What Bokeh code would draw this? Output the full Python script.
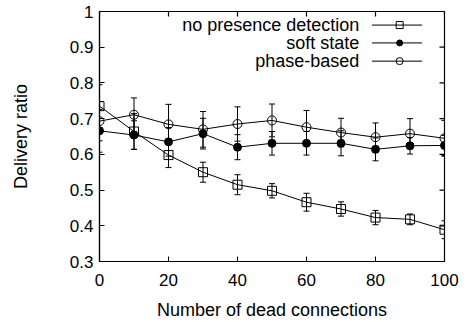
from bokeh.plotting import figure
from bokeh.models import Range1d, SingleIntervalTicker, Whisker, TeeHead, ColumnDataSource
from bokeh.core.properties import value
from bokeh.embed import file_html
from bokeh.resources import INLINE

x = [0, 10, 20, 30, 40, 50, 60, 70, 80, 90, 100]
no_presence = [0.735, 0.664, 0.598, 0.550, 0.515, 0.498, 0.466, 0.447, 0.423, 0.418, 0.389]
no_presence_err = [0.060, 0.050, 0.035, 0.028, 0.028, 0.020, 0.025, 0.020, 0.020, 0.015, 0.025]
soft_state = [0.666, 0.654, 0.635, 0.658, 0.620, 0.631, 0.631, 0.631, 0.614, 0.624, 0.625]
soft_state_err = [0.060, 0.040, 0.040, 0.043, 0.035, 0.033, 0.033, 0.035, 0.032, 0.023, 0.028]
phase_based = [0.693, 0.711, 0.684, 0.670, 0.685, 0.695, 0.676, 0.661, 0.648, 0.658, 0.645]
phase_based_err = [0.055, 0.047, 0.056, 0.050, 0.048, 0.046, 0.047, 0.040, 0.040, 0.042, 0.050]
series_names = ["no presence detection", "soft state", "phase-based"]
x_ticks = [0, 20, 40, 60, 80, 100]
y_ticks = [0.3, 0.4, 0.5, 0.6, 0.7, 0.8, 0.9, 1.0]

FONT = "Liberation Sans"
X_MIN, X_MAX, Y_MIN, Y_MAX = 0, 100, 0.3, 1.0

p = figure(width=466, height=322, output_backend="svg", toolbar_location=None,
           x_range=Range1d(X_MIN, X_MAX), y_range=Range1d(Y_MIN, Y_MAX),
           min_border_left=99, min_border_right=22, min_border_top=11, min_border_bottom=60)
p.grid.visible = False
p.background_fill_color = "white"
p.border_fill_color = "white"
p.outline_line_color = "black"
p.outline_line_width = 1.2

p.xaxis.ticker = SingleIntervalTicker(interval=20)
p.yaxis.ticker = SingleIntervalTicker(interval=0.1)
for ax in (p.xaxis[0], p.yaxis[0]):
    ax.major_tick_in = 5
    ax.major_tick_out = 0
    ax.minor_tick_in = 0
    ax.minor_tick_out = 0
    ax.axis_line_color = "black"
    ax.axis_line_width = 1.2
    ax.major_label_text_font = FONT
    ax.major_label_text_font_size = "17px"
    ax.major_label_text_color = "black"
    ax.axis_label_text_font = FONT
    ax.axis_label_text_font_size = "18px"
    ax.axis_label_text_font_style = "normal"
    ax.axis_label_text_color = "black"

p.xaxis.axis_label = "Number of dead connections"
p.yaxis.axis_label = "Delivery ratio"
p.xaxis.major_label_standoff = 12
p.xaxis.axis_label_standoff = 11
p.yaxis.major_label_standoff = 6
p.yaxis.axis_label_standoff = 36

# mirrored inward ticks on top and right edges (half of each rect is clipped by the frame)
p.rect(x=x_ticks, y=[Y_MAX] * len(x_ticks), width=1.2, height=10,
       width_units="screen", height_units="screen", fill_color="black", line_color=None)
p.rect(x=[X_MAX] * len(y_ticks), y=y_ticks, width=10, height=1.2,
       width_units="screen", height_units="screen", fill_color="black", line_color=None)

def add_err(ys, errs):
    src = ColumnDataSource(dict(x=x, lo=[a - b for a, b in zip(ys, errs)], hi=[a + b for a, b in zip(ys, errs)]))
    w = Whisker(base="x", lower="lo", upper="hi", source=src, line_color="black", line_width=1,
                upper_head=TeeHead(size=6, line_color="black", line_width=1),
                lower_head=TeeHead(size=6, line_color="black", line_width=1))
    p.add_layout(w)

add_err(no_presence, no_presence_err)
add_err(soft_state, soft_state_err)
add_err(phase_based, phase_based_err)

p.line(x, no_presence, line_color="black", line_width=1)
p.scatter(x, no_presence, marker="square", size=9, line_color="black", fill_color=None, line_width=1)
p.line(x, soft_state, line_color="black", line_width=1)
p.scatter(x, soft_state, marker="circle", size=8, line_color="black", fill_color="black")
p.line(x, phase_based, line_color="black", line_width=1)
p.scatter(x, phase_based, marker="circle", size=9, line_color="black", fill_color=None, line_width=1)

# legend (gnuplot style: right-aligned text, sample on the right)
leg_y = [0.962, 0.912, 0.861]
markers = [("square", None, 9), ("circle", "black", 8), ("circle", None, 9)]
for name, ly, (mk, fc, sz) in zip(series_names, leg_y, markers):
    p.text(x=[75.3], y=[ly], text=[name], text_align="right", text_baseline="middle",
           text_font=value(FONT), text_font_size="18px", text_color="black")
    p.segment(x0=[79.0], y0=[ly], x1=[93.5], y1=[ly], line_color="black", line_width=1)
    p.scatter([87.0], [ly], marker=mk, size=sz - 2, line_color="black", fill_color=fc)

open("out.html", "w").write(file_html(p, INLINE))
